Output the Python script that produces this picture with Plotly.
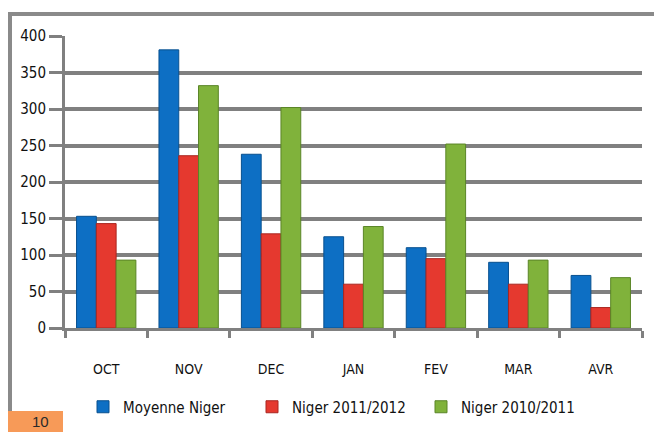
import plotly.graph_objects as go

months = ["OCT", "NOV", "DEC", "JAN", "FEV", "MAR", "AVR"]
moyenne_niger = [153, 381, 238, 125, 110, 90, 72]
niger_2011_2012 = [143, 236, 129, 60, 95, 60, 28]
niger_2010_2011 = [93, 332, 302, 139, 252, 93, 69]
y_ticks = [0, 50, 100, 150, 200, 250, 300, 350, 400]

W, H = 662, 432
OFF = 8  # page body margin offset
# plot area in page pixels: x 65..642, y 36..328
ML = 65 - OFF
MT = 36 - OFF
MR = W - (642 - OFF)
MB = H - (328 - OFF)
PW, PH = W - ML - MR, H - MT - MB


def px_x(p):
    return (p - OFF - ML) / PW


def px_y(p):
    return (H - MB - (p - OFF)) / PH


FONT = "DejaVu Sans Condensed, Liberation Sans Narrow, Arial, sans-serif"
GRID = "#808080"

fig = go.Figure()
series = [
    ("Moyenne Niger", moyenne_niger, "#0d6fc4", "#08508f"),
    ("Niger 2011/2012", niger_2011_2012, "#e5392f", "#a92620"),
    ("Niger 2010/2011", niger_2010_2011, "#80b23b", "#5a8527"),
]
for name, vals, col, edge in series:
    fig.add_trace(go.Bar(
        x=months, y=vals, name=name,
        marker=dict(color=col, line=dict(color=edge, width=1)),
    ))

fig.update_layout(
    width=W, height=H,
    margin=dict(l=ML, r=MR, t=MT, b=MB, autoexpand=False),
    paper_bgcolor="white", plot_bgcolor="white",
    barmode="group", bargap=0.28, bargroupgap=0.0,
    font=dict(family=FONT, color="#111111"),
    showlegend=True,
    legend=dict(
        orientation="h", xref="container", x=(83 - OFF) / W, xanchor="left",
        yref="container", y=1 - (407 - OFF) / H, yanchor="middle",
        font=dict(size=15, family=FONT, color="#111111"),
        entrywidth=124, entrywidthmode="pixels",
        bgcolor="rgba(0,0,0,0)",
    ),
    xaxis=dict(
        automargin=False,
        showline=True, linecolor=GRID, linewidth=3,
        ticks="outside", tickson="boundaries", ticklen=7,
        tickwidth=3, tickcolor=GRID,
        ticklabelstandoff=26,
        tickfont=dict(size=14, family=FONT, color="#111111"),
        showgrid=False,
    ),
    yaxis=dict(
        automargin=False,
        range=[0, 400], tickvals=y_ticks,
        showline=True, linecolor=GRID, linewidth=3,
        ticks="outside", ticklen=13, tickwidth=3, tickcolor=GRID,
        showgrid=True, gridcolor=GRID, gridwidth=4,
        zeroline=False,
        tickfont=dict(size=15, family=FONT, color="#111111"),
    ),
)

# outer frame (top and left edges visible)
fig.add_shape(type="line", xref="paper", yref="paper",
              x0=px_x(8), x1=px_x(680), y0=px_y(14), y1=px_y(14),
              line=dict(color="#8a8a8a", width=4))
fig.add_shape(type="line", xref="paper", yref="paper",
              x0=px_x(10), x1=px_x(10), y0=px_y(14), y1=px_y(412),
              line=dict(color="#8a8a8a", width=4))
# orange tag bottom-left
fig.add_shape(type="rect", xref="paper", yref="paper",
              x0=px_x(0), x1=px_x(63), y0=px_y(411), y1=px_y(445),
              fillcolor="#f79a58", line=dict(width=0), layer="above")
fig.add_annotation(xref="paper", yref="paper", x=px_x(40), y=px_y(421),
                   xanchor="center", yanchor="middle", text="10",
                   showarrow=False, font=dict(size=15, color="#2a2a2a",
                                              family="Liberation Sans, Arial"))

fig.write_html("out.html")
